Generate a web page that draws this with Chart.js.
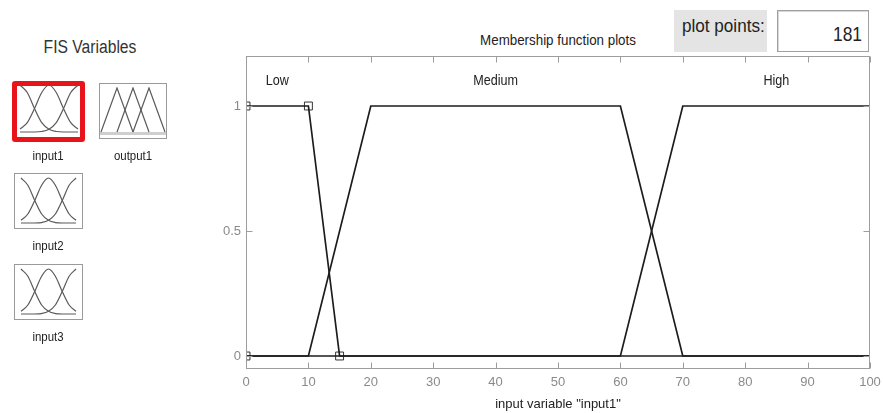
<!DOCTYPE html>
<html><head><meta charset="utf-8">
<script src="https://cdn.jsdelivr.net/npm/chart.js@4.4.1/dist/chart.umd.min.js"></script>
<style>
html,body{margin:0;padding:0;background:#fff;width:883px;height:413px;overflow:hidden;position:relative;
  font-family:'Liberation Sans',Arial,sans-serif;}
canvas{position:absolute;}
.lbl{position:absolute;color:#222;white-space:nowrap;line-height:1;}
.frame{position:absolute;border:1px solid #9a9a9a;box-sizing:border-box;}
</style></head><body>

<div class="lbl" style="left:90px;top:47px;font-size:18px;color:#333;transform:translate(-50%,-50%) scaleX(0.87);">FIS Variables</div>

<canvas id="ic1" width="60" height="49" style="left:19px;top:84px;"></canvas>
<div style="position:absolute;left:12px;top:81px;width:73px;height:61px;box-sizing:border-box;border:5px solid #e8141b;border-radius:3px;"></div>
<div class="lbl" style="left:48px;top:155px;font-size:13px;transform:translate(-50%,-50%) scaleX(0.88);">input1</div>

<div class="frame" style="left:99px;top:83px;width:68px;height:56px;"></div>
<div style="position:absolute;left:100px;top:132px;width:66px;height:3px;background:#cfcfcf;"></div>
<canvas id="ico" width="66" height="46" style="left:100px;top:87px;"></canvas>
<div class="lbl" style="left:133px;top:155px;font-size:13px;transform:translate(-50%,-50%) scaleX(0.88);">output1</div>

<div class="frame" style="left:14px;top:173px;width:69px;height:56px;"></div>
<canvas id="ic2" width="57" height="47" style="left:20px;top:177px;"></canvas>
<div class="lbl" style="left:48px;top:245px;font-size:13px;transform:translate(-50%,-50%) scaleX(0.88);">input2</div>

<div class="frame" style="left:14px;top:264px;width:69px;height:56px;"></div>
<canvas id="ic3" width="57" height="47" style="left:20px;top:268px;"></canvas>
<div class="lbl" style="left:48px;top:336px;font-size:13px;transform:translate(-50%,-50%) scaleX(0.88);">input3</div>

<div style="position:absolute;left:674px;top:10px;width:93px;height:42px;background:#e4e4e4;"></div>
<div class="lbl" style="left:682px;top:16px;font-size:19px;transform-origin:0 0;transform:scaleX(0.9);">plot points:</div>
<div style="position:absolute;left:777px;top:10px;width:92px;height:42px;box-sizing:border-box;border:1px solid #a0a0a0;box-shadow:inset 1px 1px 0 #d8d8d8;background:#fff;"></div>
<div id="pp" class="lbl" style="right:21px;top:23px;font-size:21px;transform-origin:100% 0;transform:scaleX(0.83);"></div>

<div class="lbl" style="left:558px;top:39px;font-size:15px;transform:translate(-50%,-50%) scaleX(0.89);">Membership function plots</div>

<canvas id="mf" width="683" height="413" style="left:200px;top:0px;"></canvas>

<script>
// ---- data ----
const xTickValues = [0, 10, 20, 30, 40, 50, 60, 70, 80, 90, 100];
const yTickValues = [0, 0.5, 1];
const yTickLabels = ['0', '0.5', '1'];

const lowX = [0, 10, 15, 100];
const lowY = [1, 1, 0, 0];
const mediumX = [0, 10, 20, 60, 70, 100];
const mediumY = [0, 0, 1, 1, 0, 0];
const highX = [0, 60, 70, 100];
const highY = [0, 0, 1, 1];

const lowMarkerX = [0, 0, 10, 15];
const lowMarkerY = [0, 1, 1, 0];

const mfNames = ['Low', 'Medium', 'High'];
const mfLabelX = [5, 40, 85];
const mfLabelY = 1.1;

const xAxisTitle = 'input variable "input1"';
const plotPoints = 181;

// icon thumbnails
const iconX = [0, 0.125, 0.25, 0.375, 0.5, 0.625, 0.75, 0.875, 1];
const iconLeftY = [1, 0.84, 0.5, 0.2, 0.06, 0.01, 0, 0, 0];
const iconMidY = [0.06, 0.2, 0.5, 0.84, 1, 0.84, 0.5, 0.2, 0.06];
const iconRightY = [0, 0, 0, 0.01, 0.06, 0.2, 0.5, 0.84, 1];
const triX1 = [0, 0.25, 0.5];
const triX2 = [0.25, 0.5, 0.75];
const triX3 = [0.5, 0.75, 1];
const triY = [0, 1, 0];

document.getElementById('pp').textContent = String(plotPoints);

const FONT = "'Liberation Sans',Arial,sans-serif";
const pts = (xs, ys) => xs.map((v, i) => ({x: v, y: ys[i]}));

const lineStyle = {showLine: true, borderColor: '#1c1c1c', borderWidth: 1.7, pointRadius: 0, fill: false, tension: 0};

const framePlugin = {
  id: 'frame',
  afterDatasetsDraw(chart) {
    const {ctx, chartArea: {left, right, top, bottom}, scales: {x, y}} = chart;
    ctx.save();
    ctx.strokeStyle = '#9d9d9d';
    ctx.lineWidth = 1;
    const L = Math.round(left) + 0.5, R = Math.round(right) - 0.5, T = Math.round(top) + 0.5, B = Math.round(bottom) - 0.5;
    ctx.strokeRect(L, T, R - L, B - T);
    ctx.beginPath();
    xTickValues.forEach(v => {
      const px = Math.round(x.getPixelForValue(v)) + 0.5;
      ctx.moveTo(px, B); ctx.lineTo(px, B - 6);
      ctx.moveTo(px, T); ctx.lineTo(px, T + 6);
    });
    yTickValues.forEach(v => {
      const py = Math.round(y.getPixelForValue(v)) + 0.5;
      ctx.moveTo(L, py); ctx.lineTo(L + 6, py);
      ctx.moveTo(R, py); ctx.lineTo(R - 6, py);
    });
    ctx.stroke();
    ctx.fillStyle = '#222';
    ctx.font = '14px ' + FONT;
    ctx.textAlign = 'center';
    ctx.textBaseline = 'middle';
    const sx = 0.9;
    mfNames.forEach((n, i) => {
      const px = x.getPixelForValue(mfLabelX[i]), py = y.getPixelForValue(mfLabelY);
      ctx.save();
      ctx.translate(px, py);
      ctx.scale(sx, 1);
      ctx.fillText(n, 0, 0);
      ctx.restore();
    });
    ctx.restore();
  }
};

new Chart(document.getElementById('mf'), {
  type: 'scatter',
  data: {
    datasets: [
      Object.assign({label: mfNames[0], data: pts(lowX, lowY)}, lineStyle),
      Object.assign({label: mfNames[1], data: pts(mediumX, mediumY)}, lineStyle),
      Object.assign({label: mfNames[2], data: pts(highX, highY)}, lineStyle),
      {label: 'params', data: pts(lowMarkerX, lowMarkerY), showLine: false, pointStyle: 'rect',
       pointRadius: 5.6, pointBorderColor: '#333', pointBackgroundColor: 'rgba(0,0,0,0)', pointBorderWidth: 1}
    ]
  },
  options: {
    responsive: false,
    animation: false,
    devicePixelRatio: 1,
    layout: {padding: {top: 56, right: 13, left: 0, bottom: 0}},
    plugins: {legend: {display: false}, tooltip: {enabled: false}, title: {display: false}},
    scales: {
      x: {
        type: 'linear', min: 0, max: 100,
        afterBuildTicks: s => { s.ticks = xTickValues.map(v => ({value: v})); },
        afterFit: s => { s.height = 44.5; s.paddingLeft = 0; s.paddingRight = 0; },
        grid: {display: false, drawTicks: false},
        border: {display: false},
        ticks: {color: '#8a8a8a', font: {family: FONT, size: 13}, padding: 6, maxRotation: 0, autoSkip: false,
                callback: v => String(v)},
        title: {display: true, text: xAxisTitle, color: '#222', font: {family: FONT, size: 13}, padding: {top: 0, bottom: 1}}
      },
      y: {
        type: 'linear', min: -0.05, max: 1.2,
        afterBuildTicks: s => { s.ticks = yTickValues.map(v => ({value: v})); },
        afterFit: s => { s.width = 46; },
        grid: {display: false, drawTicks: false},
        border: {display: false},
        ticks: {color: '#8a8a8a', font: {family: FONT, size: 13}, padding: 5, autoSkip: false,
                callback: (v, i) => yTickLabels[yTickValues.indexOf(v)]}
      }
    }
  },
  plugins: [framePlugin]
});

function mini(id, sets, smooth) {
  new Chart(document.getElementById(id), {
    type: 'scatter',
    data: {datasets: sets.map(s => ({data: pts(s[0], s[1]), showLine: true, borderColor: '#5a5a5a', borderWidth: 1.2,
      pointRadius: 0, cubicInterpolationMode: smooth ? 'monotone' : 'default', tension: smooth ? 0.4 : 0, clip: false}))},
    options: {
      responsive: false, animation: false, devicePixelRatio: 1,
      layout: {padding: 1},
      plugins: {legend: {display: false}, tooltip: {enabled: false}},
      scales: {x: {display: false, type: 'linear', min: 0, max: 1}, y: {display: false, min: 0, max: 1}}
    }
  });
}
const gaussSets = [[iconX, iconLeftY], [iconX, iconMidY], [iconX, iconRightY]];
mini('ic1', gaussSets, true);
mini('ic2', gaussSets, true);
mini('ic3', gaussSets, true);
mini('ico', [[triX1, triY], [triX2, triY], [triX3, triY]], false);
</script>
</body></html>
